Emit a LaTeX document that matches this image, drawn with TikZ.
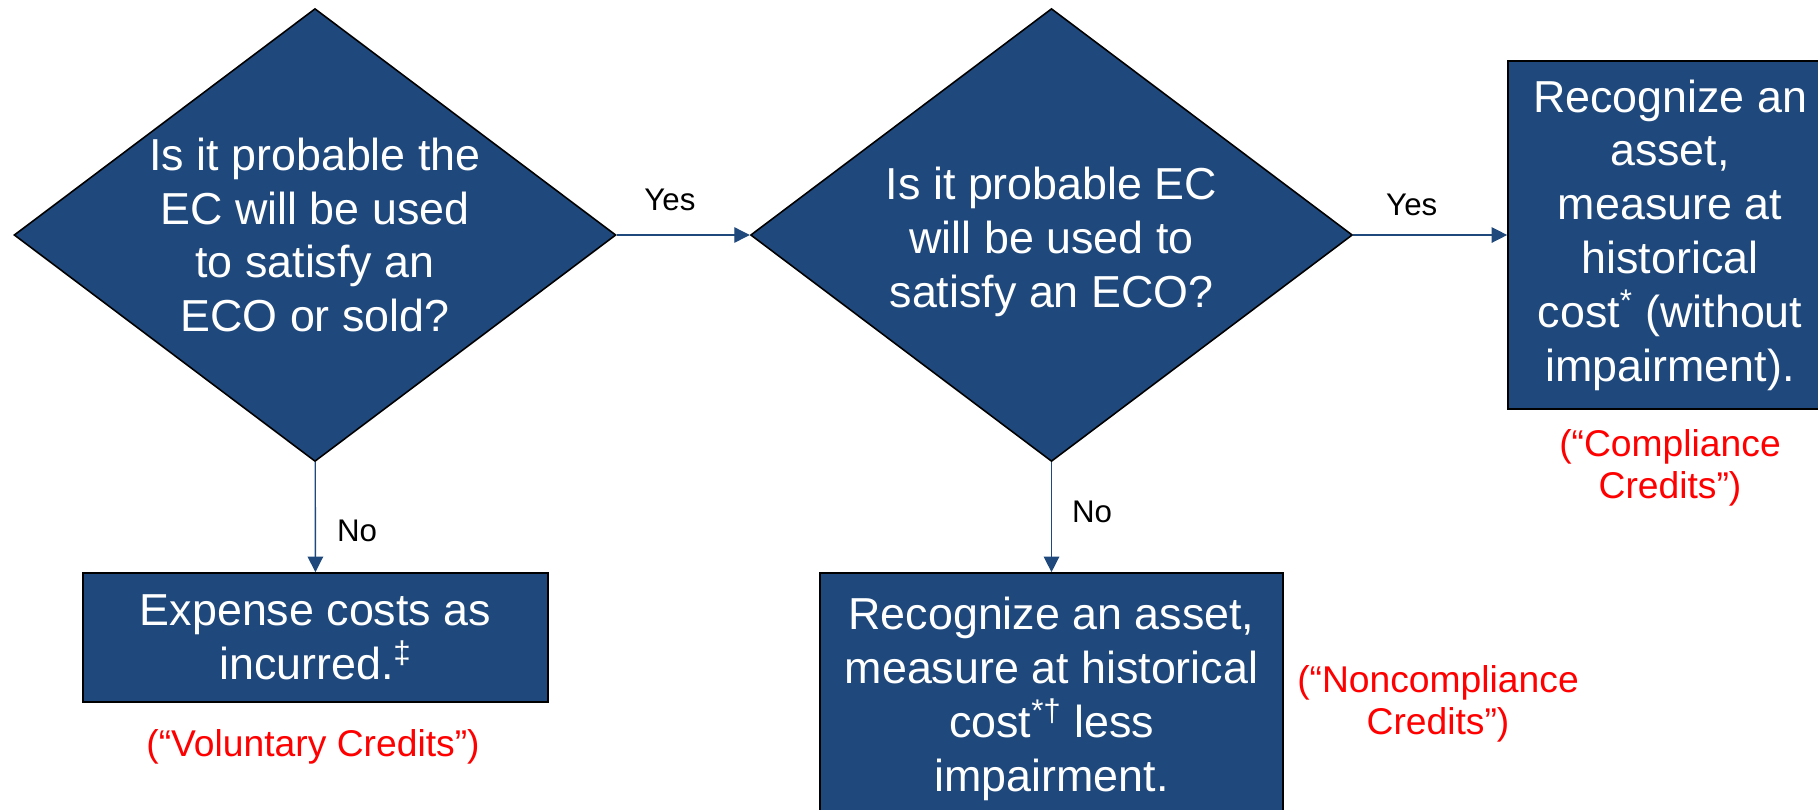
\documentclass[tikz,border=0pt]{standalone}
\usepackage{fontspec}
\setmainfont{Liberation Sans}
\usepackage{xcolor}
\usetikzlibrary{shapes.geometric, arrows.meta}
\definecolor{ecblue}{RGB}{31,73,125}
\definecolor{ecred}{RGB}{255,0,0}
\newcommand\bigtext{\fontsize{25.5}{30.6}\selectfont}

\begin{document}
\begin{tikzpicture}[x=0.02cm, y=-0.02cm,
  question/.style={shape=diamond, draw=black, line width=0.9pt, fill=ecblue, text=white, aspect=1.33, inner sep=0pt, minimum width=12.04cm, minimum height=9.06cm, align=center, font=\bigtext},
  outcome/.style={rectangle, draw=black, line width=1pt, fill=ecblue, text=white, inner sep=0pt, align=center, font=\bigtext},
  flow/.style={draw=ecblue, line width=0.75pt, -{Triangle[length=0.31cm, width=0.31cm]}},
  answer/.style={font=\fontsize{17.8}{21}\selectfont, inner sep=0pt},
  credits/.style={text=ecred, align=center, font=\fontsize{21.2}{23.7}\selectfont}]
\useasboundingbox (0,0) rectangle (1818,809);

% the two questions
\node[question] (qSold) at (315,235) {Is it probable the\\EC will be used\\to satisfy an\\ECO or sold?};
\node[question] (qECO) at (1051.5,235) {\rule{0pt}{26.6pt}Is it probable EC\\will be used to\\satisfy an ECO?};

% outcomes
\node[outcome, minimum width=6.48cm, minimum height=6.96cm] (rComp) at (1670,235) {Recognize an\\asset,\\measure at\\historical\\cost\textsuperscript{*} (without\\impairment).};
\node[outcome, minimum width=9.3cm, minimum height=2.58cm] (rVol) at (315.5,637.5) {Expense costs as\\incurred.\textsuperscript{\textdaggerdbl}};
\node[outcome, minimum width=9.26cm, minimum height=5.04cm] (rNon) at (1051.5,699) {Recognize an asset,\\measure at historical\\cost\textsuperscript{*\textdagger} less\\impairment.};

% arrows
\draw[flow] (qSold) -- node[answer, above=0.48cm, pos=0.4] {Yes} (qECO);
\draw[flow] (qECO) -- node[answer, above=0.38cm, pos=0.38] {Yes} (rComp);
\draw[flow] (qSold) -- node[answer, right=0.42cm, pos=0.625] {No} (rVol);
\draw[flow] (qECO) -- node[answer, right=0.4cm, pos=0.45] {No} (rNon);

% credit names
\node[credits] (lVol) at (313,747) {(“Voluntary Credits”)};
\node[credits] (lComp) at (1670,468) {(“Compliance\\Credits”)};
\node[credits] (lNon) at (1438,704) {(“Noncompliance\\Credits”)};
\end{tikzpicture}
\end{document}
